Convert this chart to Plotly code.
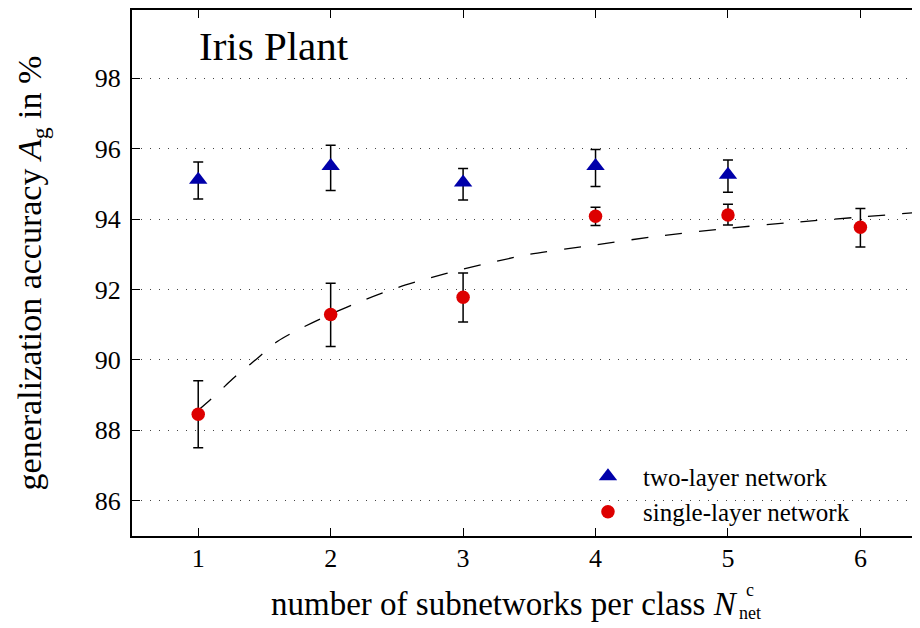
import plotly.graph_objects as go

# ---- data ----
n_sub_two = [1, 2, 3, 4, 5]
acc_two = [95.12, 95.51, 95.04, 95.51, 95.26]
err_two_hi = [0.50, 0.59, 0.40, 0.47, 0.42]
err_two_lo = [0.55, 0.70, 0.50, 0.58, 0.50]

n_sub_single = [1, 2, 3, 4, 5, 6]
acc_single = [88.46, 91.29, 91.78, 94.08, 94.12, 93.77]
err_single_hi = [0.95, 0.89, 0.69, 0.26, 0.30, 0.53]
err_single_lo = [0.95, 0.91, 0.70, 0.26, 0.29, 0.56]

fit_x = [1.0, 1.1, 1.2, 1.3, 1.4, 1.5, 1.6, 1.75, 2.0, 2.25, 2.5, 2.75, 3.0,
         3.25, 3.5, 4.0, 4.5, 5.0, 5.5, 6.0, 6.47]
fit_y = [88.57, 88.9, 89.25, 89.6, 89.9, 90.22, 90.53, 90.85, 91.3, 91.7, 92.05,
         92.33, 92.58, 92.8, 93.0, 93.27, 93.53, 93.74, 93.91, 94.06, 94.2]

x_ticks = [1, 2, 3, 4, 5, 6]
y_ticks = [86, 88, 90, 92, 94, 96, 98]

FONT = "Liberation Serif"

fig = go.Figure()

fig.add_trace(go.Scatter(
    x=fit_x, y=fit_y, mode="lines", showlegend=False, hoverinfo="skip",
    line=dict(color="black", width=1.3, dash="17px,17px", shape="spline", smoothing=0.8),
))

fig.add_trace(go.Scatter(
    x=n_sub_two, y=acc_two, mode="markers", name="two-layer network",
    marker=dict(symbol="triangle-up", size=16, color="#0000aa"),
    error_y=dict(type="data", symmetric=False, array=err_two_hi, arrayminus=err_two_lo,
                 color="black", thickness=1.5, width=5),
))

fig.add_trace(go.Scatter(
    x=n_sub_single, y=acc_single, mode="markers", name="single-layer network",
    marker=dict(symbol="circle", size=13.5, color="#dd0000"),
    error_y=dict(type="data", symmetric=False, array=err_single_hi, arrayminus=err_single_lo,
                 color="black", thickness=1.5, width=5),
))

fig.add_annotation(
    text="Iris Plant", xref="paper", yref="paper", x=0.083, y=0.98,
    xanchor="left", yanchor="top", showarrow=False,
    font=dict(family=FONT, size=41, color="black"),
)

# x-axis title: main text plus stacked super/subscript of N^c_net
fig.add_annotation(
    text="number of subnetworks per class <i>N</i>", xref="paper", yref="paper",
    x=0.7716, y=-0.1288, xanchor="right", yanchor="middle", showarrow=False,
    font=dict(family=FONT, size=33, color="black"),
)
fig.add_annotation(
    text="c<br>net", xref="paper", yref="paper", align="center",
    x=0.7696, y=-0.125, xanchor="left", yanchor="middle", showarrow=False,
    font=dict(family=FONT, size=18, color="black"), borderpad=0,
)

fig.update_layout(
    width=912, height=620,
    margin=dict(l=124, r=0, t=0, b=92),
    paper_bgcolor="white", plot_bgcolor="white",
    font=dict(family=FONT, color="black"),
    showlegend=True,
    legend=dict(
        x=0.5596, y=0.08, xanchor="left", yanchor="middle",
        bgcolor="rgba(0,0,0,0)", font=dict(family=FONT, size=25, color="black"),
        tracegroupgap=0, itemwidth=60,
    ),
    xaxis=dict(
        range=[0.5, 6.45], tickvals=x_ticks, ticktext=[str(v) for v in x_ticks],
        showgrid=False, zeroline=False,
        showline=True, linecolor="black", linewidth=2, mirror="ticks",
        ticks="inside", ticklen=8, tickwidth=1.3, tickcolor="black",
        tickfont=dict(family=FONT, size=26, color="black"), ticklabelstandoff=-2,
    ),
    yaxis=dict(
        range=[85, 99.94], tickvals=y_ticks, ticktext=[str(v) for v in y_ticks],
        showgrid=True, gridcolor="#444444", gridwidth=1, griddash="1px,8px",
        zeroline=False,
        showline=True, linecolor="black", linewidth=2, mirror=False,
        ticks="inside", ticklen=8, tickwidth=1.3, tickcolor="black",
        tickfont=dict(family=FONT, size=26, color="black"), ticklabelstandoff=4,
        title=dict(text="generalization accuracy <i>A</i><sub>g</sub> in %",
                   font=dict(family=FONT, size=34, color="black"), standoff=43),
    ),
)

fig.write_html("out.html")
